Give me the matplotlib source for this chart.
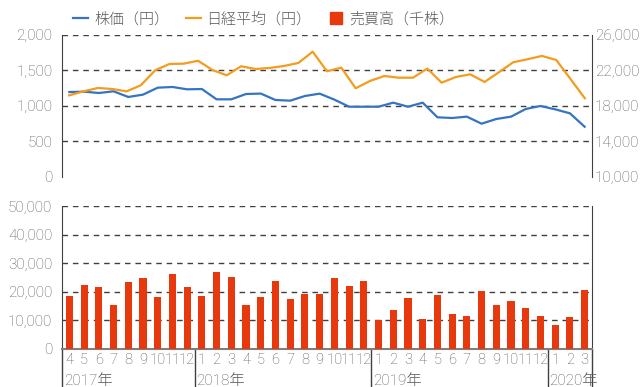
import numpy as np
import matplotlib
matplotlib.use("Agg")
import matplotlib.pyplot as plt
from matplotlib.lines import Line2D
from matplotlib.ticker import FuncFormatter
import matplotlib.transforms as mtransforms

plt.rcParams['font.family'] = ['Roboto', 'Noto Sans CJK JP', 'DejaVu Sans']
plt.rcParams['font.weight'] = 'light'

# monthly data, 2017/4 - 2020/3
months = [4, 5, 6, 7, 8, 9, 10, 11, 12,
          1, 2, 3, 4, 5, 6, 7, 8, 9, 10, 11, 12,
          1, 2, 3, 4, 5, 6, 7, 8, 9, 10, 11, 12,
          1, 2, 3]
years = ['2017年', '2018年', '2019年', '2020年']
year_start = [0, 9, 21, 33]

price = [1197, 1202, 1183, 1207, 1127, 1160, 1258, 1268, 1235,
         1239, 1094, 1094, 1169, 1175, 1085, 1075, 1141, 1174, 1090, 990, 990,
         990, 1047, 990, 1047, 841, 831, 850, 751, 817, 850, 958, 1000, 953, 897, 708]

volume = [18500, 22400, 21700, 15400, 23400, 24800, 18200, 26200, 21700,
          18500, 26900, 25200, 15400, 18200, 23800, 17500, 19200, 19200, 24800, 22000, 23800,
          10100, 13600, 17800, 10500, 18900, 12200, 11500, 20300, 15400, 16800, 14300, 11500,
          8400, 11200, 20600]

# nikkei series has one more point than the monthly series
nikkei = [19200, 19650, 20030, 19920, 19650, 20330, 22020, 22740, 22770, 23100,
          22060, 21460, 22480, 22170, 22290, 22510, 22850, 24120, 21910, 22320,
          20000, 20820, 21380, 21190, 21190, 22210, 20630, 21270, 21570, 20710,
          21800, 22930, 23270, 23640, 23190, 21040, 18870]

BLUE = '#3474c2'
ORANGE = '#f39c1e'
RED = '#e8380d'
TXT = '#595959'
GRID = '#404040'

fig = plt.figure(figsize=(6.42, 3.87), dpi=100)
W, H = 642, 387


def rect(l, t, r, b):
    return [l / W, 1 - b / H, (r - l) / W, (b - t) / H]


comma = FuncFormatter(lambda v, p: '{:,}'.format(int(v)))

# --- top: price / nikkei lines
ax1 = fig.add_axes(rect(62, 35, 592, 177))
x = np.arange(len(price))
ax1.plot(x, price, color=BLUE, lw=1.6, zorder=3)
ax1.set_xlim(-0.5, len(price) - 0.5)
ax1.set_ylim(0, 2000)
ax1.set_yticks(np.arange(0, 2001, 500))
ax1.yaxis.set_major_formatter(comma)
ax1.set_xticks([])
for v in range(500, 2001, 500):
    ax1.axhline(v, color=GRID, lw=1, ls=(0, (4, 3.5)), zorder=1)

ax2 = fig.add_axes(rect(62, 35, 592, 177), label='nikkei')
ax2.patch.set_visible(False)
xn = np.arange(len(nikkei))
ax2.plot(xn, nikkei, color=ORANGE, lw=1.6, zorder=3)
ax2.set_xlim(-0.5, len(nikkei) - 0.5)
ax2.set_ylim(10000, 26000)
ax2.set_yticks(np.arange(10000, 26001, 4000))
ax2.yaxis.set_major_formatter(comma)
ax2.yaxis.tick_right()
ax2.set_xticks([])

for a in (ax1, ax2):
    for s in a.spines.values():
        s.set_visible(False)
    a.tick_params(axis='y', length=0, labelsize=11, labelcolor=TXT, pad=7)
ax2.tick_params(axis='y', pad=2)
ax1.spines['left'].set_visible(True)
ax1.spines['left'].set_color(GRID)
ax2.spines['right'].set_visible(True)
ax2.spines['right'].set_color(GRID)

# --- bottom: volume bars
ax3 = fig.add_axes(rect(62, 206, 592, 349))
xb = np.arange(len(volume))
ax3.bar(xb, volume, width=0.48, color=RED, zorder=3)
ax3.set_xlim(-0.5, len(volume) - 0.5)
ax3.set_ylim(0, 50000)
ax3.set_yticks(np.arange(0, 50001, 10000))
ax3.yaxis.set_major_formatter(comma)
for v in range(10000, 50001, 10000):
    ax3.axhline(v, color=GRID, lw=1, ls=(0, (4, 3.5)), zorder=1)
ax3.set_xticks(xb)
ax3.set_xticklabels([str(m) for m in months])
ax3.tick_params(axis='x', length=0, labelsize=10.5, labelcolor=TXT, pad=3)
ax3.tick_params(axis='y', length=0, labelsize=11, labelcolor=TXT, pad=7)
for lab in ax3.get_xticklabels():
    lab.set_family(['Liberation Sans Narrow', 'Roboto'])
for s in ('left', 'right'):
    ax3.spines[s].set_color(GRID)
ax3.spines['top'].set_visible(False)
ax3.spines['bottom'].set_color('#7f7f7f')
ax3.spines['bottom'].set_linewidth(1.5)

# year separators and labels below the month ticks
trans = mtransforms.blended_transform_factory(ax3.transData, ax3.transAxes)
seps = [s - 0.5 for s in year_start] + [len(volume) - 0.5]
for sx in seps:
    ax3.add_line(Line2D([sx, sx], [0, -0.3], transform=trans, color=GRID,
                        lw=1, clip_on=False))
for yl, ys in zip(years, year_start):
    ax3.text(ys - 0.38, -0.175, yl, transform=trans, ha='left', va='top',
             fontsize=11, color=TXT)

handles = [Line2D([], [], color=BLUE, lw=1.6),
           Line2D([], [], color=ORANGE, lw=1.6),
           Line2D([], [], color=RED, marker='s', ls='none', markersize=9)]
labels = ['株価（円）', '日経平均（円）', '売買高（千株）']
fig.legend(handles, labels, loc='upper left', bbox_to_anchor=(64 / W, 0.992),
           ncol=3, frameon=False, labelcolor=TXT,
           prop={'family': ['Noto Sans CJK JP'], 'size': 10.8},
           handlelength=1.0, handletextpad=0.4, columnspacing=1.1,
           borderaxespad=0.2)

fig.savefig('out.png', dpi=100)
